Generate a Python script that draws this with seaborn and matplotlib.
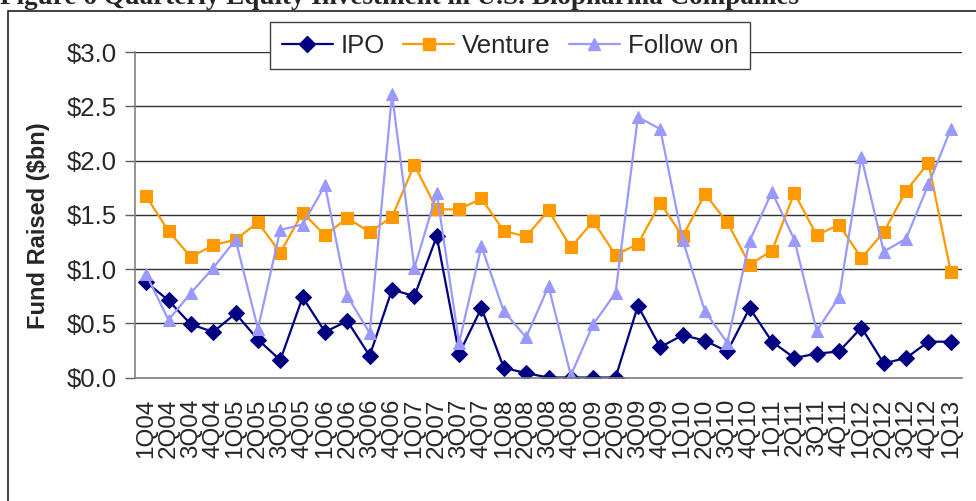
import numpy as np
import pandas as pd
import matplotlib
matplotlib.use("Agg")
import matplotlib.pyplot as plt
from matplotlib.ticker import FixedLocator, FuncFormatter
from matplotlib.lines import Line2D
import seaborn as sns

quarters = ["1Q04", "2Q04", "3Q04", "4Q04", "1Q05", "2Q05", "3Q05", "4Q05",
            "1Q06", "2Q06", "3Q06", "4Q06", "1Q07", "2Q07", "3Q07", "4Q07",
            "1Q08", "2Q08", "3Q08", "4Q08", "1Q09", "2Q09", "3Q09", "4Q09",
            "1Q10", "2Q10", "3Q10", "4Q10", "1Q11", "2Q11", "3Q11", "4Q11",
            "1Q12", "2Q12", "3Q12", "4Q12", "1Q13"]

ipo = [0.88, 0.71, 0.49, 0.42, 0.59, 0.35, 0.16, 0.74,
       0.42, 0.52, 0.20, 0.81, 0.75, 1.30, 0.22, 0.64,
       0.09, 0.04, 0.00, 0.00, 0.00, 0.00, 0.66, 0.28,
       0.39, 0.34, 0.24, 0.64, 0.33, 0.18, 0.22, 0.24,
       0.46, 0.13, 0.18, 0.33, 0.33]

venture = [1.67, 1.35, 1.11, 1.22, 1.27, 1.43, 1.15, 1.52,
           1.31, 1.47, 1.34, 1.48, 1.96, 1.55, 1.55, 1.65,
           1.35, 1.30, 1.54, 1.20, 1.44, 1.13, 1.23, 1.61,
           1.30, 1.69, 1.43, 1.04, 1.17, 1.70, 1.31, 1.41,
           1.10, 1.34, 1.72, 1.98, 0.97]

follow_on = [0.95, 0.53, 0.78, 1.01, 1.27, 0.45, 1.36, 1.41,
             1.77, 0.75, 0.41, 2.61, 1.01, 1.70, 0.32, 1.21,
             0.61, 0.37, 0.84, 0.02, 0.49, 0.78, 2.40, 2.29,
             1.27, 0.61, 0.32, 1.26, 1.71, 1.27, 0.43, 0.74,
             2.03, 1.16, 1.28, 1.78, 2.29]

series = [("IPO", ipo, "#000080", "D", 8),
          ("Venture", venture, "#FF9900", "s", 8),
          ("Follow on", follow_on, "#9999FF", "^", 9)]

sns.set_style("white")
plt.rcParams["font.family"] = ["Liberation Sans", "DejaVu Sans"]

fig = plt.figure(figsize=(9.76, 5.01), dpi=100)
ax = fig.add_axes([135 / 976, 1 - 377.5 / 501, (962 - 135) / 976, (377.5 - 52) / 501])

pos = np.arange(len(quarters))
for name, vals, col, mk, ms in series:
    sns.lineplot(x=pos, y=vals, ax=ax, color=col, marker=mk, markersize=ms,
                 markeredgecolor=col, linewidth=1.6, label=name, sort=False)

ax.set_xlim(-0.5, len(quarters) - 0.5)
ax.set_ylim(0, 3.0)
ax.set_yticks(np.arange(0, 3.01, 0.5))
ax.yaxis.set_major_formatter(FuncFormatter(lambda v, p: "${:.1f}".format(v)))
ax.yaxis.grid(True, color="#303030", linewidth=1)
ax.set_axisbelow(True)

ax.set_xticks(pos)
ax.set_xticklabels(quarters, rotation=90, fontsize=17.5)
ax.xaxis.set_minor_locator(FixedLocator(np.arange(-0.5, len(quarters), 1)))
ax.tick_params(axis="x", which="major", length=0, pad=15)
ax.tick_params(axis="x", which="minor", length=7, width=1, color="#606060", direction="out")
ax.tick_params(axis="y", which="major", length=7, width=1, color="#606060",
               direction="out", labelsize=18.5, pad=6, left=True)

for s in ["top", "right"]:
    ax.spines[s].set_visible(False)
for s in ["left", "bottom"]:
    ax.spines[s].set_visible(True)
    ax.spines[s].set_color("#808080")
    ax.spines[s].set_linewidth(1.2)

ax.set_xlabel("")
ax.set_ylabel("Fund Raised ($bn)", fontsize=17, fontweight="bold")
ax.yaxis.set_label_coords((50 - 135) / 827, (377.5 - 226) / 325.5)

handles = [Line2D([], [], color=c, marker=m, markersize=s, markeredgecolor=c, linewidth=1.6)
           for _, _, c, m, s in series]
leg = ax.legend(handles, [n for n, _, _, _, _ in series], loc="upper center",
                bbox_to_anchor=(510 / 976, 1 - 22 / 501), bbox_transform=fig.transFigure,
                ncol=3, fontsize=18.5, frameon=True, fancybox=False, framealpha=1,
                edgecolor="#404040", handlelength=2.0, handletextpad=0.3,
                columnspacing=0.7, borderpad=0.45, borderaxespad=0)
leg.get_frame().set_linewidth(1)

frame = plt.Rectangle((8 / 976, -0.1), 1.2, 1 - 11 / 501 + 0.1, transform=fig.transFigure,
                      fill=False, edgecolor="#202020", linewidth=1.2)
fig.patches.append(frame)

fig.text(0.0, 1 - 4 / 501, "Figure 6 Quarterly Equity Investment in U.S. Biopharma Companies",
         fontsize=19.5, fontweight="bold", family=["Liberation Serif", "DejaVu Serif"],
         ha="left", va="baseline")

fig.savefig("out.png", dpi=100)
